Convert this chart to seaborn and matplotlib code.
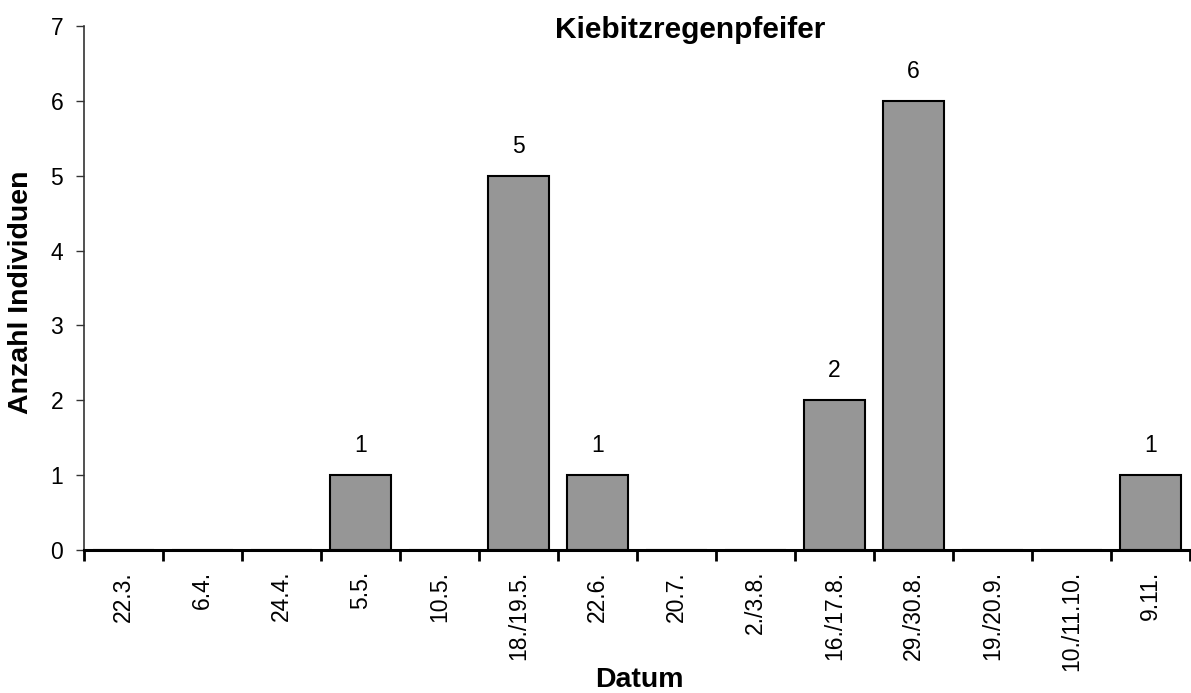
import pandas as pd
import seaborn as sns
import matplotlib.pyplot as plt
import numpy as np

# Kiebitzregenpfeifer counts per survey date
dates = ['22.3.', '6.4.', '24.4.', '5.5.', '10.5.', '18./19.5.', '22.6.', '20.7.',
         '2./3.8.', '16./17.8.', '29./30.8.', '19./20.9.', '10./11.10.', '9.11.']
counts = [0, 0, 0, 1, 0, 5, 1, 0, 0, 2, 6, 0, 0, 1]

df = pd.DataFrame({'Datum': dates, 'Anzahl': counts})

sns.set_style('white', {'text.color': 'black', 'xtick.color': 'black', 'ytick.color': 'black',
                        'axes.labelcolor': 'black'})
plt.rcParams['font.family'] = ['Liberation Sans', 'DejaVu Sans']

fig = plt.figure(figsize=(11.91, 6.93), dpi=100)
ax = fig.add_axes([84/1191, 1 - 550/693, 1106/1191, 524/693])

sns.barplot(data=df, x='Datum', y='Anzahl', order=dates, color='#969696',
            edgecolor='black', linewidth=1.5, width=0.78, saturation=1, ax=ax)

# value labels only on non-zero bars
for bar, v in zip(ax.patches, counts):
    if v > 0:
        ax.text(bar.get_x() + bar.get_width() / 2, v + 0.24, str(v),
                ha='center', va='bottom', fontsize=16.5, color='black')

ax.set_xlim(-0.5, len(dates) - 0.5)
ax.set_ylim(0, 7)
ax.set_yticks(range(0, 8))
ax.tick_params(axis='y', labelsize=16.5, length=6, width=1, pad=9, left=True,
               color='#333333', labelcolor='black')

# labels at category centres, ticks at category boundaries (Excel style)
ax.set_xticks(np.arange(len(dates)))
ax.set_xticklabels(dates, rotation=90, fontsize=16.5, color='black')
ax.tick_params(axis='x', which='major', length=0, pad=15)
ax.set_xticks(np.arange(-0.5, len(dates)), minor=True)
ax.tick_params(axis='x', which='minor', length=8, width=2, bottom=True, color='black')

for s in ['top', 'right']:
    ax.spines[s].set_visible(False)
ax.spines['left'].set_color('#333333')
ax.spines['left'].set_linewidth(1.2)
ax.spines['bottom'].set_color('black')
ax.spines['bottom'].set_linewidth(2.2)

ax.set_xlabel('')
ax.set_ylabel('')
fig.text(21/1191, 1 - 292/693, 'Anzahl Individuen', rotation=90, ha='center', va='center',
         fontsize=20.5, fontweight='bold', color='black')
fig.text(639/1191, 1 - 680/693, 'Datum', ha='center', va='center', fontsize=20.5,
         fontweight='bold', color='black')
fig.text(690/1191, 1 - 30/693, 'Kiebitzregenpfeifer', ha='center', va='center',
         fontsize=21.5, fontweight='bold', color='black')

plt.savefig('out.png', dpi=100)
